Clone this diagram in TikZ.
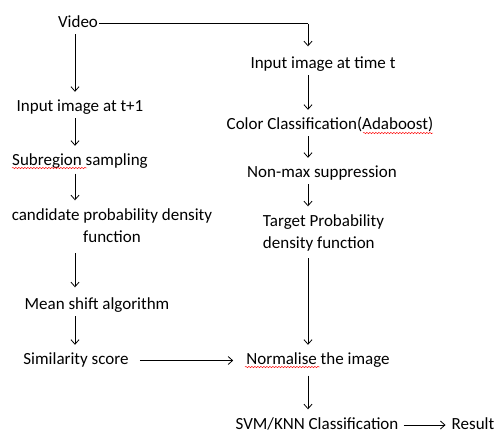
\documentclass[tikz,border=0pt]{standalone}
\usepackage{fontspec}
\setmainfont{Carlito}
\usetikzlibrary{arrows.meta,decorations.pathmorphing}
\begin{document}
\begin{tikzpicture}[x=1pt,y=-1pt,
  lbl/.style={inner xsep=0pt,inner ysep=0pt,text height=12pt,text depth=4pt,font=\fontsize{17}{22.5}\selectfont},
  lbltwo/.style={lbl,text height=34.5pt,text depth=4pt},
  flow/.style={-{Straight Barb[length=4.5pt,width=8pt]},line width=0.8pt,shorten <=2.5pt,shorten >=7.5pt},
  plain/.style={line width=0.8pt},
  spell/.style={red,line width=0.45pt,decorate,decoration={snake,amplitude=0.7pt,segment length=3pt}}]
\useasboundingbox (0,0) rectangle (498,432);
\coordinate (colL) at (75,0);
\coordinate (colR) at (308,0);
% left column
\node[lbl] (video) at (78,23.5) {Video};
\node[lbl] (in1) at (80,107.5) {Input image at t+1};
\node[lbl] (sub) at (80,161.5) {Subregion sampling};
\node[lbltwo,align=center] (cand) at (112,227.25) {candidate probability density\\function};
\node[lbl] (mean) at (97,305.5) {Mean shift algorithm};
\node[lbl] (sim) at (76,360.5) {Similarity score};
% right column
\node[lbl] (in0) at (323,64.5) {Input image at time t};
\node[lbl] (color) at (330,125.5) {Color Classification(Adaboost)};
\node[lbl] (nms) at (322,173.5) {Non-max suppression};
\node[lbltwo,align=left] (target) at (323.5,233.25) {Target Probability\\density function};
\node[lbl] (norm) at (318,360.5) {Normalise the image};
\node[lbl] (svm) at (317,425) {SVM/KNN Classification};
\node[lbl] (result) at (473,425) {Result};
% connectors left
\draw[flow] (video.south -| colL) -- (in1.north -| colL);
\draw[flow] (in1.south -| colL) -- (sub.north -| colL);
\draw[flow,shorten <=4pt] (sub.south -| colL) -- (cand.north -| colL);
\draw[flow,shorten <=6.5pt,shorten >=10pt] (cand.south -| colL) -- (mean.north -| colL);
\draw[flow] (mean.south -| colL) -- (sim.north -| colL);
% connectors right
\draw[plain] ([xshift=1pt]video.east) -- (video.east -| colR);
\draw[flow,shorten <=0pt,shorten >=10pt] (video.east -| colR) -- (in0.north -| colR);
\draw[flow] (in0.south -| colR) -- (color.north -| colR);
\draw[flow] (color.south -| colR) -- (nms.north -| colR);
\draw[flow] (nms.south -| colR) -- (target.north -| colR);
\draw[flow,shorten <=5.5pt] (target.south -| colR) -- (norm.north -| colR);
\draw[flow,shorten <=7pt] (norm.south -| colR) -- (svm.north -| colR);
% horizontal connectors
\draw[flow,shorten <=11pt,shorten >=13pt] (sim.east) -- (norm.west |- sim.east);
\draw[flow,shorten <=5pt,shorten >=6pt] (svm.east) -- (result.west |- svm.east);
% spell-check underlines
\draw[spell] (12,168) -- (87,168);
\draw[spell] (363,133) -- (433,133);
\draw[spell] (245,367) -- (320,367);
\end{tikzpicture}
\end{document}
